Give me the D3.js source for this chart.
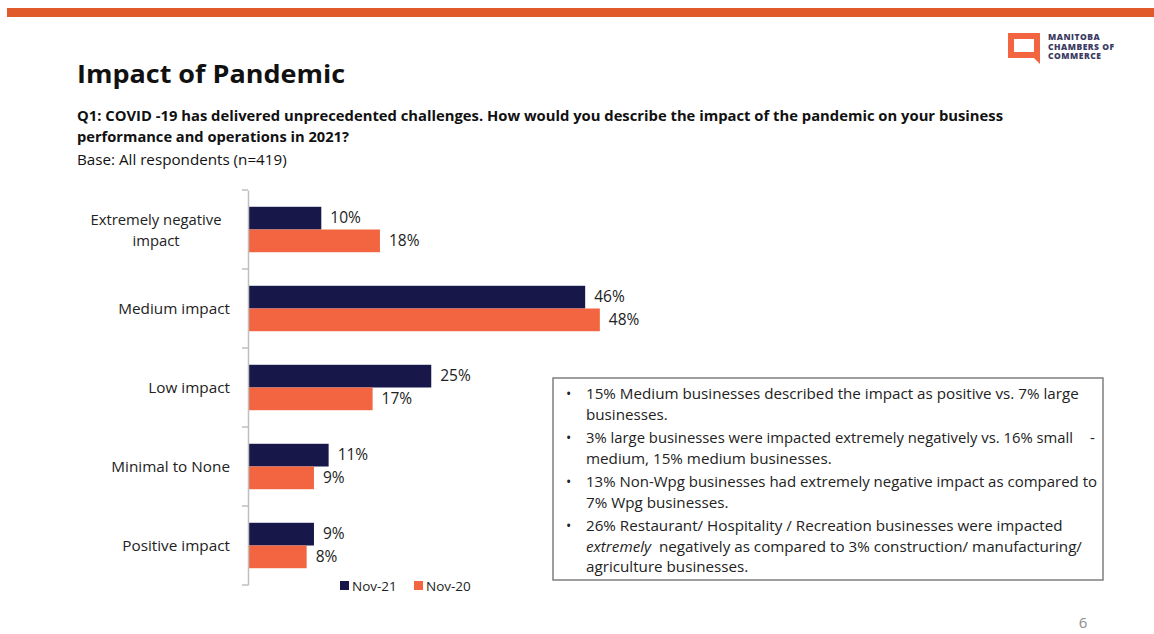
<!DOCTYPE html>
<html>
<head>
<meta charset="utf-8">
<script src="https://cdn.jsdelivr.net/npm/d3@7/dist/d3.min.js"></script>
<style>
  html, body { margin: 0; padding: 0; background: #fff; }
  svg { display: block; font-family: "Open Sans", Lato, sans-serif; }
  text { white-space: pre; }
</style>
</head>
<body>
<svg id="chart" width="1154" height="634"></svg>
<script>
// Survey responses: impact of the pandemic on business
const categories = ["Extremely negative impact", "Medium impact", "Low impact", "Minimal to None", "Positive impact"];
const seriesNames = ["Nov-21", "Nov-20"];
const nov21 = [10, 46, 25, 11, 9];
const nov20 = [18, 48, 17, 9, 8];
const seriesColors = ["#17174a", "#f26540"];

// "|" toggles italics, "\t" jumps to the tab stop near the right edge
const notes = [
  ["15% Medium businesses described the impact as positive vs. 7% large", "businesses."],
  ["3% large businesses were impacted extremely negatively vs. 16% small\t-", "medium, 15% medium businesses."],
  ["13% Non-Wpg businesses had extremely negative impact as compared to", "7% Wpg businesses."],
  ["26% Restaurant/ Hospitality / Recreation businesses were impacted", "|extremely|  negatively as compared to 3% construction/ manufacturing/", "agriculture businesses."]
];

const svg = d3.select("#chart");

// top accent rule
svg.append("rect").attr("x", 7).attr("y", 8).attr("width", 1147).attr("height", 9).attr("fill", "#e05a2b");

// logo
const logo = svg.append("g").attr("transform", "translate(1008,33)");
logo.append("path")
  .attr("d", "M0,0 H32 V31 L26,25 H0 Z M6,6 V19 H26 V6 Z")
  .attr("fill", "#f26540").attr("fill-rule", "evenodd");
["MANITOBA", "CHAMBERS OF", "COMMERCE"].forEach((t, i) => {
  logo.append("text").attr("x", 40).attr("y", 7 + i * 9.5)
    .attr("font-size", 8.5).attr("font-weight", 800).attr("fill", "#3b3b63")
    .attr("letter-spacing", 0.5).text(t);
});

// headings
svg.append("text").attr("x", 77).attr("y", 83).attr("font-size", 25).attr("font-weight", 700)
  .attr("fill", "#111").attr("textLength", 268).attr("lengthAdjust", "spacingAndGlyphs")
  .text("Impact of Pandemic");
svg.append("text").attr("x", 77).attr("y", 121).attr("font-size", 14).attr("font-weight", 700)
  .attr("fill", "#111").attr("textLength", 926).attr("lengthAdjust", "spacingAndGlyphs")
  .text("Q1: COVID -19 has delivered unprecedented challenges. How would you describe the impact of the pandemic on your business");
svg.append("text").attr("x", 77).attr("y", 142).attr("font-size", 14).attr("font-weight", 700)
  .attr("fill", "#111").attr("textLength", 272).attr("lengthAdjust", "spacingAndGlyphs")
  .text("performance and operations in 2021?");
svg.append("text").attr("x", 77).attr("y", 165).attr("font-size", 15.2).attr("fill", "#111")
  .text("Base: All respondents (n=419)");

// chart scales
const x0 = 248;
const x = d3.scaleLinear().domain([0, 10]).range([x0, x0 + 73.3]);
const y = d3.scaleBand().domain(categories).range([190, 585]).paddingInner(0.425).paddingOuter(0.2125);
const ySub = d3.scaleBand().domain(seriesNames).range([0, y.bandwidth()]);

const rows = categories.map((c, i) => ({ cat: c, vals: [nov21[i], nov20[i]] }));

const groups = svg.append("g").selectAll("g").data(rows).join("g")
  .attr("transform", d => `translate(0,${y(d.cat)})`);

groups.selectAll("rect").data(d => d.vals.map((v, j) => ({ v, s: seriesNames[j], j })))
  .join("rect")
  .attr("x", x(0)).attr("y", d => ySub(d.s))
  .attr("width", d => x(d.v) - x(0)).attr("height", ySub.bandwidth())
  .attr("fill", d => seriesColors[d.j]);

groups.selectAll("text.val").data(d => d.vals.map((v, j) => ({ v, s: seriesNames[j] })))
  .join("text").attr("class", "val")
  .attr("x", d => x(d.v) + 9).attr("y", d => ySub(d.s) + ySub.bandwidth() / 2 + 5)
  .attr("font-size", 15.5).attr("fill", "#222").text(d => d.v + "%");

// category axis
const axis = svg.append("g").attr("transform", `translate(${x0},0)`)
  .call(d3.axisLeft(y).tickSize(0).tickFormat(""));
axis.select(".domain").attr("stroke", "#bfbfbf").attr("stroke-width", 1.5);
const bounds = [190].concat(categories.map(c => y(c) + y.bandwidth() + y.step() * 0.2125));
axis.selectAll("line.b").data(bounds).join("line").attr("class", "b")
  .attr("x1", -6).attr("x2", 0).attr("y1", d => d).attr("y2", d => d)
  .attr("stroke", "#bfbfbf").attr("stroke-width", 1.5);

// category labels
const labelLines = { "Extremely negative impact": ["Extremely negative", "impact"] };
categories.forEach(c => {
  const cy = y(c) + y.bandwidth() / 2;
  const lines = labelLines[c];
  if (lines) {
    lines.forEach((t, i) => {
      svg.append("text").attr("x", 156).attr("y", cy - 5 + (i * 21)).attr("text-anchor", "middle")
        .attr("font-size", 14.8).attr("fill", "#222").text(t);
    });
  } else {
    svg.append("text").attr("x", 230).attr("y", cy + 5).attr("text-anchor", "end")
      .attr("font-size", 15.3).attr("fill", "#222").text(c);
  }
});

// legend
const legend = svg.append("g").attr("transform", "translate(340,581)");
seriesNames.forEach((s, i) => {
  const g = legend.append("g").attr("transform", `translate(${i * 74},0)`);
  g.append("rect").attr("width", 9).attr("height", 9).attr("fill", seriesColors[i]);
  g.append("text").attr("x", 12).attr("y", 10).attr("font-size", 13.5).attr("fill", "#222").text(s);
});

// notes box
const noteLeft = 586, noteMaxRight = 1097;
svg.append("rect").attr("x", 553).attr("y", 378).attr("width", 550).attr("height", 202)
  .attr("fill", "#fff").attr("stroke", "#7f7f7f").attr("stroke-width", 1.5);
let ly = 399;
notes.forEach(item => {
  svg.append("text").attr("x", 566).attr("y", ly).attr("font-size", 14).attr("fill", "#222").text("•");
  item.forEach((line, k) => {
    const [main, tabbed] = line.split("\t");
    const t = svg.append("text").attr("x", noteLeft).attr("y", ly).attr("font-size", 15.2).attr("fill", "#222");
    main.split("|").forEach((p, pi) => {
      if (!p) return;
      t.append("tspan").attr("font-style", pi % 2 === 1 ? "italic" : "normal").text(p);
    });
    // keep each line inside the box (and clear of the tab stop)
    const limit = (tabbed ? 1073 : noteMaxRight) - noteLeft;
    if (t.node().getComputedTextLength() > limit) {
      t.attr("textLength", limit).attr("lengthAdjust", "spacingAndGlyphs");
    }
    if (tabbed) {
      svg.append("text").attr("x", 1090).attr("y", ly).attr("font-size", 15.2).attr("fill", "#222").text(tabbed);
    }
    ly += k < item.length - 1 ? 20.5 : 0;
  });
  ly += 23.5;
});

// page number
svg.append("text").attr("x", 1083).attr("y", 634 - 6).attr("text-anchor", "middle")
  .attr("font-size", 15).attr("fill", "#8c8c8c").text("6");
</script>
</body>
</html>
